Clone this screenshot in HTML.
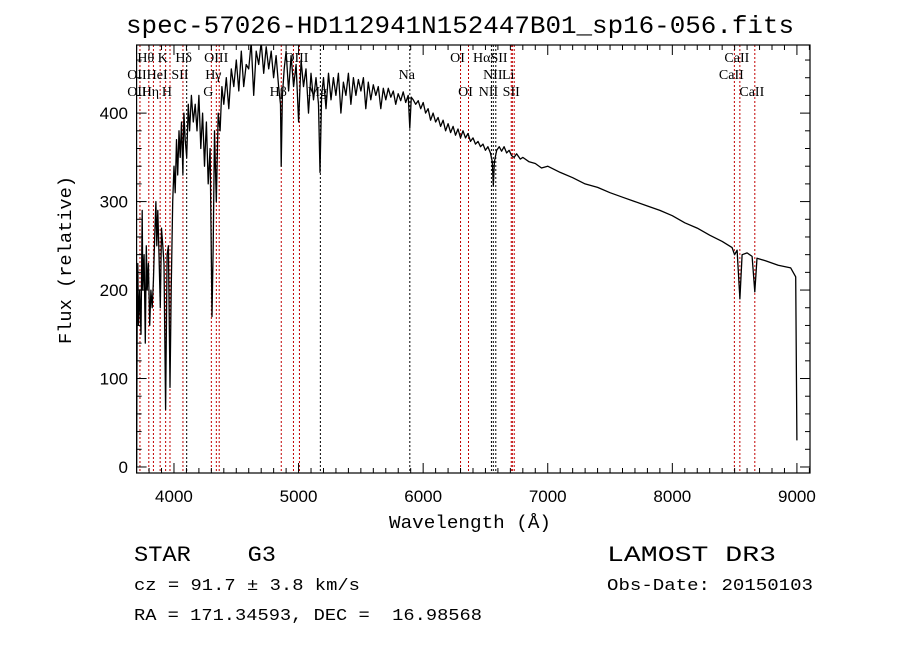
<!DOCTYPE html>
<html><head><meta charset="utf-8"><style>
html,body{margin:0;padding:0;background:#fff;}
svg{display:block;}
</style></head><body>
<svg id="chart" width="900" height="649" viewBox="0 0 900 649" xmlns="http://www.w3.org/2000/svg">
<rect x="0" y="0" width="900" height="649" fill="#fff"/>
<text x="460" y="33" text-anchor="middle" font-family="Liberation Mono, monospace" font-size="25" textLength="668" lengthAdjust="spacingAndGlyphs">spec-57026-HD112941N152447B01_sp16-056.fits</text>
<g id="lines"></g>
<g id="labels"></g>
<g id="series"></g>
<g id="axes"></g>
<text x="470" y="528" text-anchor="middle" font-family="Liberation Mono, monospace" font-size="18" textLength="162" lengthAdjust="spacingAndGlyphs">Wavelength (Å)</text>
<text transform="translate(71,260) rotate(-90)" text-anchor="middle" font-family="Liberation Mono, monospace" font-size="18" textLength="168" lengthAdjust="spacingAndGlyphs">Flux (relative)</text>
<text x="134" y="561" font-family="Liberation Mono, monospace" font-size="22" xml:space="preserve" textLength="142" lengthAdjust="spacingAndGlyphs">STAR    G3</text>
<text x="607" y="561" font-family="Liberation Mono, monospace" font-size="22" textLength="169" lengthAdjust="spacingAndGlyphs">LAMOST DR3</text>
<text x="134" y="590" font-family="Liberation Mono, monospace" font-size="17" textLength="226" lengthAdjust="spacingAndGlyphs">cz = 91.7 ± 3.8 km/s</text>
<text x="607" y="590" font-family="Liberation Mono, monospace" font-size="17" textLength="206" lengthAdjust="spacingAndGlyphs">Obs-Date: 20150103</text>
<text x="134" y="620" font-family="Liberation Mono, monospace" font-size="17" xml:space="preserve" textLength="348" lengthAdjust="spacingAndGlyphs">RA = 171.34593, DEC =  16.98568</text>
</svg>
<script>
const wavelengths = [3700,3705,3710,3715,3725,3735,3745,3750,3760,3770,3778,3785,3795,3805,3815,3825,3835,3845,3855,3862,3870,3880,3890,3900,3910,3920,3933,3945,3955,3968,3978,3990,4000,4010,4020,4030,4040,4050,4060,4072,4080,4090,4102,4115,4125,4140,4155,4170,4185,4200,4215,4230,4245,4260,4275,4290,4305,4315,4325,4340,4355,4370,4385,4400,4420,4440,4460,4480,4500,4520,4540,4560,4580,4600,4620,4640,4660,4680,4700,4720,4740,4760,4780,4800,4820,4840,4855,4861,4870,4885,4900,4920,4940,4960,4980,5000,5020,5040,5060,5080,5100,5120,5140,5160,5172,5185,5200,5220,5240,5260,5280,5300,5320,5340,5360,5380,5400,5420,5440,5460,5480,5500,5520,5540,5560,5580,5600,5620,5640,5660,5680,5700,5720,5740,5760,5780,5800,5820,5840,5860,5880,5893,5905,5920,5940,5960,5980,6000,6020,6040,6060,6080,6100,6120,6140,6160,6180,6200,6220,6240,6260,6280,6300,6320,6340,6360,6380,6400,6420,6440,6460,6480,6500,6520,6540,6555,6563,6572,6590,6610,6630,6650,6670,6690,6710,6730,6750,6780,6800,6850,6900,6950,7000,7100,7200,7300,7400,7500,7600,7700,7800,7900,8000,8100,8200,8300,8400,8480,8500,8520,8542,8560,8600,8640,8662,8680,8750,8850,8950,8990,9000];
const fluxes = [0,180,230,160,200,150,290,200,240,140,250,200,230,160,200,180,210,260,300,250,290,240,180,270,250,230,65,240,250,90,200,300,340,310,370,330,380,350,390,330,400,370,350,410,380,420,390,410,380,420,360,400,340,390,320,360,170,250,380,300,400,380,430,410,440,405,450,430,460,425,470,430,455,450,480,420,470,455,480,445,475,450,470,440,465,430,410,340,420,450,470,425,465,430,455,390,460,430,450,400,445,415,440,410,333,420,440,405,445,415,440,420,445,400,435,420,445,410,440,420,438,425,440,405,435,415,432,420,430,405,428,415,428,418,425,410,422,414,424,412,420,383,418,415,410,414,405,412,400,405,392,400,390,395,385,392,380,388,378,385,375,382,372,380,372,377,368,372,365,368,362,365,358,362,355,345,318,345,358,362,357,362,355,358,352,350,354,348,350,345,343,338,340,333,327,320,316,310,305,300,295,290,284,276,270,262,255,248,240,245,190,240,242,238,198,236,233,228,225,215,30];
const xTicks = [4000,5000,6000,7000,8000,9000];
const yTicks = [0,100,200,300,400];
const lineWaves = [3727,3798,3835,3889,3933,3968,4072,4102,4300,4340,4363,4861,4959,5007,5175,5893,6300,6364,6548,6563,6583,6707,6716,6731,8498,8542,8662];
const lineColors = ['r','r','r','r','r','r','r','k','r','r','r','r','r','r','k','k','r','r','k','k','k','r','r','r','r','r','r'];
const labelTexts = ['Hθ','K','Hδ','OIII','OIII','OI','HαSII','CaII','OII','HeI','SII','Hγ','Na','NII','Li','CaII','OII','Hη','H','G','Hβ','Mg','OI','NII','SII','CaII'];
const labelWaves = [3798,3933,4102,4363,5007,6300,6563,8542,3727,3889,4072,4340,5893,6583,6707,8498,3727,3835,3968,4300,4861,5175,6364,6548,6731,8662];
const labelRows = [0,0,0,0,0,0,0,0,1,1,1,1,1,1,1,1,2,2,2,2,2,2,2,2,2,2];

const X0=136.6, X1=810, Y0=45, Y1=473;
const xMin=3700, xMax=9105, yMin=-6.8, yMax=477;
function xs(w){return X0+(w-xMin)/(xMax-xMin)*(X1-X0);}
function ys(f){return Y1-(f-yMin)/(yMax-yMin)*(Y1-Y0);}
const NS='http://www.w3.org/2000/svg';
function mk(tag,attrs,parent){const e=document.createElementNS(NS,tag);for(const k in attrs)e.setAttribute(k,attrs[k]);parent.appendChild(e);return e;}

const svg=document.getElementById('chart');
const defs=mk('defs',{},svg);
const cp=mk('clipPath',{id:'plotclip'},defs);
mk('rect',{x:X0,y:Y0,width:X1-X0,height:Y1-Y0},cp);

const gl=document.getElementById('lines');
lineWaves.forEach((w,i)=>{
  const l=mk('line',{x1:xs(w),x2:xs(w),y1:Y0,y2:Y1,stroke:lineColors[i]==='r'?'#c00000':'#000','stroke-width':1,'stroke-dasharray':'2,2'},gl);
  
  
});
const glab=document.getElementById('labels');
const rowY=[62,79,96];
labelTexts.forEach((t,i)=>{
  const tx=mk('text',{x:xs(labelWaves[i])-3,y:rowY[labelRows[i]],'text-anchor':'middle','font-family':'Liberation Serif, serif','font-size':14},glab);
  tx.textContent=t;
  
  
});

const gs=document.getElementById('series');
gs.setAttribute('clip-path','url(#plotclip)');
let d='';
wavelengths.forEach((w,i)=>{d+=(i?'L':'M')+xs(w).toFixed(1)+','+ys(fluxes[i]).toFixed(1);});
const p=mk('path',{d:d,fill:'none',stroke:'#000','stroke-width':1.3,'stroke-linejoin':'round'},gs);



const ga=document.getElementById('axes');
const fr=mk('rect',{x:X0,y:Y0,width:X1-X0,height:Y1-Y0,fill:'none',stroke:'#000','stroke-width':1.2},ga);


for(let w=3700;w<=9100;w+=100){
  const big=(w%1000===0), L=big?10:5;
  mk('line',{x1:xs(w),x2:xs(w),y1:Y1,y2:Y1-L,stroke:'#000'},ga);
  mk('line',{x1:xs(w),x2:xs(w),y1:Y0,y2:Y0+L,stroke:'#000'},ga);
}
xTicks.forEach(v=>{
  const t=mk('text',{x:xs(v),y:502,'text-anchor':'middle','font-family':'Liberation Sans, sans-serif','font-size':17},ga);
  t.textContent=v;
  
  
});
for(let f=0;f<=460;f+=20){
  const big=(f%100===0), L=big?10:5;
  mk('line',{x1:X0,x2:X0+L,y1:ys(f),y2:ys(f),stroke:'#000'},ga);
  mk('line',{x1:X1,x2:X1-L,y1:ys(f),y2:ys(f),stroke:'#000'},ga);
}
yTicks.forEach(v=>{
  const t=mk('text',{x:128,y:ys(v)+6,'text-anchor':'end','font-family':'Liberation Sans, sans-serif','font-size':17},ga);
  t.textContent=v;
  
  
});
</script>
</body></html>
